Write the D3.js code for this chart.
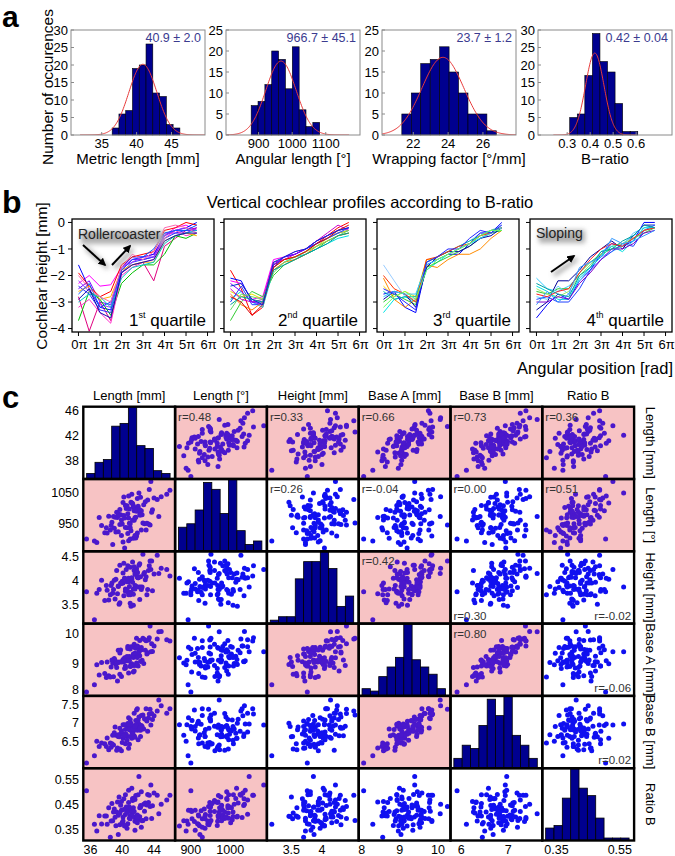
<!DOCTYPE html>
<html><head><meta charset="utf-8">
<script src="https://cdn.jsdelivr.net/npm/d3@7/dist/d3.min.js"></script>
<style>html,body{margin:0;padding:0;background:#fff;} svg{display:block;font-family:"Liberation Sans",Arial,Helvetica,sans-serif;}</style>
</head><body>
<svg id="fig" width="675" height="856"></svg>
<script>
// ---------------- Panel a data ----------------
const aLabels = ["Metric length [mm]", "Angular length [°]", "Wrapping factor [°/mm]", "B\u2212ratio"];
const aStats = ["40.9 ± 2.0", "966.7 ± 45.1", "23.7 ± 1.2", "0.42 ± 0.04"];
const aMean = [40.9, 966.7, 23.7, 0.42];
const aSd = [2.0, 45.1, 1.2, 0.04];
const aFitPeak = [20.2, 17.6, 18.5, 23.4];
const aCountsMetric = [2, 6, 7, 19, 20, 26, 12, 11, 3, 2];
const aCountsAngular = [7, 8, 12, 20, 18, 11, 21, 6, 2, 3];
const aCountsWrap = [5, 10, 17, 18, 21, 15, 10, 5, 5, 1];
const aCountsRatio = [5, 6, 17, 29, 21, 18, 9, 1, 1];
const aBinRange = [[36.5, 46.2], [878, 1082], [21.34, 26.77], [0.311, 0.607]];
const aXDomain = [[30.6, 49.8], [803, 1202], [20.2, 27.9], [0.173, 0.756]];
const aYMax = [30, 25, 25, 30];
const aXTicks = [[35, 40, 45], [900, 1000, 1100], [22, 24, 26], [0.3, 0.4, 0.5, 0.6]];
const aYLabel = "Number of occurences";

// ---------------- Panel b data ----------------
const bTitle = "Vertical cochlear profiles according to B-ratio";
const bAngles = [0, 0.5, 1, 1.5, 2, 2.5, 3, 3.5, 4, 4.5, 5, 5.5]; // multiples of pi
const bXTicks = [0, 1, 2, 3, 4, 5, 6];
const bYTicks = [0, -1, -2, -3, -4];
const bOrdinals = ["st", "nd", "rd", "th"];
const bQ1 = [
 [-2.3,-2.0,-2.4,-2.35,-1.7,-1.4,-1.3,-1.2,-0.5,-0.2,-0.1,-0.3],
 [-2.8,-4.1,-3.0,-3.7,-1.9,-1.6,-1.5,-2.2,-0.9,-0.6,-0.3,-0.2],
 [-1.6,-2.5,-3.2,-3.3,-1.7,-1.3,-1.3,-1.2,-0.5,-0.3,-0.2,0.0],
 [-2.5,-2.2,-3.0,-3.1,-1.8,-1.4,-1.4,-1.3,-0.4,-0.4,-0.4,-0.2],
 [-3.7,-2.6,-2.9,-3.5,-2.3,-1.9,-1.6,-1.6,-1.2,-0.5,-0.6,-0.4],
 [-1.9,-2.4,-2.8,-2.6,-1.6,-1.3,-1.2,-1.1,-0.3,-0.2,0.0,-0.1],
 [-2.4,-2.7,-3.3,-3.4,-1.9,-1.5,-1.4,-1.3,-0.6,-0.4,-0.3,-0.3],
 [-3.2,-2.9,-3.4,-3.8,-2.0,-1.7,-1.5,-1.4,-0.6,-0.3,-0.5,-0.4],
 [-2.6,-2.4,-2.9,-2.8,-1.8,-1.6,-1.5,-1.5,-0.7,-0.5,-0.4,-0.5],
 [-2.2,-2.6,-3.1,-3.2,-1.7,-1.5,-1.3,-1.3,-0.5,-0.3,-0.2,-0.3],
 [-2.7,-2.3,-3.2,-3.0,-1.8,-1.4,-1.3,-1.0,-0.4,-0.3,-0.3,-0.1],
 [-3.0,-2.7,-2.8,-3.2,-2.1,-1.7,-1.6,-1.5,-0.8,-0.5,-0.4,-0.3],
 [-2.0,-2.5,-2.8,-3.0,-1.7,-1.2,-1.4,-1.1,-0.2,-0.1,-0.2,-0.4],
 [-2.9,-2.5,-3.4,-3.6,-1.9,-1.6,-1.5,-1.4,-0.7,-0.5,-0.4,-0.4]
];
const bQ1Colors = ["#ff00ff","#e0007f","#0000ff","#7f00ff","#00c000","#ff0000","#3030ff","#ff33cc","#ffb000","#9933ff","#0050ff","#00c8c8","#ff66b2","#1010b0"];
const bQ2 = [
 [-1.8,-2.5,-3.5,-3.2,-1.6,-1.4,-1.3,-1.1,-0.8,-0.5,-0.2,0.0],
 [-2.2,-2.3,-2.9,-2.8,-1.4,-1.3,-1.1,-1.0,-0.7,-0.5,-0.3,-0.2],
 [-2.1,-2.2,-3.0,-3.0,-1.6,-1.3,-1.2,-1.0,-0.8,-0.6,-0.4,-0.3],
 [-3.7,-3.0,-2.6,-2.8,-2.0,-1.6,-1.4,-1.2,-1.0,-0.7,-0.5,-0.4],
 [-2.9,-2.6,-3.0,-3.2,-1.8,-1.5,-1.3,-1.2,-1.0,-0.8,-0.6,-0.5],
 [-2.6,-2.8,-2.7,-2.9,-1.7,-1.4,-1.3,-1.1,-0.9,-0.6,-0.4,-0.3],
 [-3.0,-2.4,-3.1,-3.1,-1.7,-1.3,-1.2,-1.0,-0.8,-0.6,-0.4,-0.2],
 [-2.5,-2.9,-3.0,-2.9,-1.5,-1.4,-1.2,-1.0,-0.7,-0.4,-0.1,-0.3],
 [-2.7,-3.1,-3.3,-3.0,-1.8,-1.5,-1.4,-1.2,-0.9,-0.7,-0.5,-0.4],
 [-2.3,-2.6,-3.0,-3.1,-1.6,-1.3,-1.2,-1.0,-0.7,-0.5,-0.3,-0.2],
 [-3.3,-2.7,-2.8,-2.9,-1.9,-1.5,-1.3,-1.1,-0.9,-0.7,-0.5,-0.3],
 [-2.8,-3.0,-3.5,-3.1,-1.7,-1.4,-1.3,-1.1,-0.8,-0.6,-0.3,-0.1],
 [-3.1,-2.8,-2.9,-3.0,-1.8,-1.6,-1.4,-1.2,-1.0,-0.8,-0.5,-0.4],
 [-2.4,-2.3,-2.9,-3.1,-1.5,-1.3,-1.1,-1.0,-0.7,-0.5,-0.3,-0.2]
];
const bQ2Colors = ["#ff0000","#ff00ff","#0000ff","#33cc33","#00e0e0","#e6e600","#2040ff","#cc00cc","#ff8000","#8000ff","#66e066","#dd0000","#009999","#0033cc"];
const bQ3 = [
 [-1.6,-2.2,-2.8,-2.9,-1.5,-1.3,-1.1,-0.9,-0.7,-0.4,-0.3,-0.1],
 [-3.4,-2.9,-2.8,-3.0,-1.8,-1.5,-1.2,-1.0,-0.8,-0.6,-0.4,-0.3],
 [-2.7,-2.6,-3.2,-3.4,-1.6,-1.4,-1.2,-1.2,-0.8,-0.4,-0.4,0.0],
 [-2.4,-2.8,-2.6,-2.8,-1.4,-1.4,-1.2,-1.0,-0.8,-0.5,-0.3,-0.2],
 [-2.1,-2.9,-3.2,-2.9,-1.6,-1.7,-1.4,-1.2,-1.2,-1.0,-0.6,-0.3],
 [-3.0,-2.7,-2.9,-3.1,-1.7,-1.5,-1.3,-1.1,-0.9,-0.6,-0.4,-0.3],
 [-2.9,-2.6,-2.7,-3.2,-1.7,-1.3,-1.1,-1.1,-0.9,-0.6,-0.5,-0.2],
 [-2.6,-2.9,-2.8,-2.8,-1.5,-1.3,-1.1,-0.9,-0.7,-0.5,-0.3,-0.2],
 [-2.0,-2.5,-2.7,-3.0,-1.4,-1.3,-1.1,-0.9,-0.8,-0.5,-0.4,-0.2],
 [-2.8,-2.6,-2.7,-2.7,-1.6,-1.4,-1.2,-1.0,-0.8,-0.6,-0.4,-0.2],
 [-2.5,-2.7,-3.0,-3.3,-1.5,-1.3,-1.0,-1.0,-0.6,-0.3,-0.4,-0.1],
 [-3.2,-2.8,-2.6,-2.9,-1.8,-1.4,-1.2,-1.0,-0.8,-0.5,-0.3,-0.3]
];
const bQ3Colors = ["#99ccff","#00e5e5","#0000ff","#ffd700","#ff8c00","#33cc33","#0000aa","#00b3b3","#ff3300","#33ccff","#2222ff","#66ff66"];
const bQ4 = [
 [-2.1,-2.5,-2.6,-2.4,-2.0,-1.6,-1.1,-0.9,-0.8,-0.5,-0.3,-0.2],
 [-3.6,-3.1,-2.7,-2.9,-2.2,-1.8,-1.2,-0.8,-0.9,-0.7,0.0,0.0],
 [-3.3,-3.0,-2.2,-2.2,-1.8,-1.3,-1.0,-0.7,-1.0,-0.5,-0.1,-0.1],
 [-2.6,-2.7,-2.5,-2.5,-1.9,-1.5,-1.2,-1.0,-0.9,-0.6,-0.4,-0.2],
 [-2.8,-2.9,-2.4,-2.7,-2.2,-1.7,-1.3,-1.1,-0.9,-0.4,-0.2,-0.1],
 [-2.9,-2.8,-3.0,-3.0,-2.5,-1.8,-1.4,-1.1,-0.8,-0.9,-0.3,-0.1],
 [-2.5,-2.7,-2.8,-2.6,-2.0,-1.6,-1.2,-0.9,-0.8,-0.6,-0.3,-0.2],
 [-2.4,-2.6,-2.9,-2.9,-2.1,-1.7,-1.3,-0.9,-1.1,-0.7,-0.2,-0.2],
 [-2.7,-2.8,-2.6,-2.5,-1.9,-1.4,-1.0,-0.8,-0.9,-0.6,-0.3,-0.2],
 [-3.0,-3.0,-2.8,-2.9,-2.3,-1.9,-1.4,-1.0,-1.0,-0.8,-0.4,-0.3],
 [-2.3,-2.5,-2.7,-2.8,-2.0,-1.7,-1.1,-1.0,-0.7,-0.5,-0.1,-0.2],
 [-3.1,-2.6,-3.0,-2.7,-1.7,-1.5,-1.3,-0.6,-0.8,-0.7,-0.5,-0.3]
];
const bQ4Colors = ["#33ccff","#0000ff","#000099","#33cc33","#66ccff","#2040ff","#99ee66","#00e0e0","#ff2020","#8000cc","#00a0a0","#3399ff"];

// ---------------- Panel c data ----------------
const cVarNames = ["Length [mm]", "Length [°]", "Height [mm]", "Base A [mm]", "Base B [mm]", "Ratio B"];
const cLengthMm = [41.4,39.2,43.3,40.4,42.1,37.8,41.9,40.8,42.7,38.6,41.1,44.4,39.9,41.6,40.1,42.4,40.7,43.0,36.5,41.2,
 42.0,39.5,41.5,39.0,43.8,40.3,41.0,42.3,38.3,41.8,40.6,42.9,39.7,44.9,40.9,41.3,37.4,42.2,40.2,43.5,
 39.4,41.7,40.5,42.5,38.8,41.0,43.2,40.0,41.4,35.5,44.0,40.4,42.6,39.1,41.2,38.0,42.1,40.8,41.9,39.8,
 45.6,40.7,41.6,38.5,42.8,40.1,41.1,43.7,39.6,41.5,37.1,42.3,40.3,41.3,39.3,43.1,40.9,42.0,38.1,41.8,
 39.9,44.6,40.6,41.7,38.9,42.4,40.2,41.0,43.4,39.5,41.4,36.8,42.2,40.8,46.0,39.7,41.9,43.6,38.7,41.6];
const cLengthDeg = [1003,922,948,1008,989,920,1001,894,1010,943,1018,1027,961,968,890,991,981,929,893,1016,
 1005,981,991,934,994,967,900,1034,973,909,936,1020,946,1036,950,960,943,977,1035,945,
 969,903,998,978,882,949,1025,948,1007,900,1032,937,951,970,1044,936,1048,967,919,978,
 1044,917,992,929,949,1017,926,986,976,960,969,977,871,1014,986,950,996,996,919,989,
 911,972,1007,970,972,929,975,936,1059,923,902,888,994,1038,1057,995,1030,1085,954,911];
const cHeight = [3.71,4.02,4.20,3.77,4.31,3.58,4.16,3.97,4.13,3.89,3.46,4.52,3.94,3.89,3.94,3.81,4.30,4.07,3.18,4.02,
 4.05,3.88,4.28,4.00,3.78,4.04,3.70,4.07,3.59,4.24,3.97,4.01,4.31,4.25,3.87,4.38,4.00,3.60,3.68,4.40,
 3.72,3.88,4.22,3.86,3.73,4.27,3.81,3.98,3.48,3.76,4.13,3.82,4.54,3.61,4.05,3.89,3.86,3.70,4.16,3.94,
 4.22,3.76,4.13,3.70,4.16,4.15,3.75,4.40,3.50,4.20,3.81,3.86,4.04,3.96,4.20,3.70,3.73,4.05,3.79,4.18,
 3.93,4.14,3.81,4.12,3.81,3.85,4.35,3.52,4.30,3.87,3.82,3.73,4.34,4.04,4.09,3.53,4.06,4.22,3.94,3.82];
const cBaseA = [9.32,8.97,9.78,8.92,9.38,8.67,9.57,9.54,9.00,8.88,8.97,9.82,8.57,9.53,9.11,9.46,9.57,9.76,8.29,8.99,
 9.54,9.44,8.75,9.17,9.40,8.83,9.48,9.07,8.59,9.84,9.09,9.44,9.35,10.07,9.11,8.93,9.03,9.26,9.06,10.25,
 8.42,9.30,9.19,9.11,9.02,9.55,9.36,9.06,9.20,8.05,9.58,8.85,9.84,9.11,9.56,8.53,9.39,8.68,9.20,9.45,
 9.79,9.50,8.93,8.55,9.80,9.13,8.92,9.66,9.05,9.64,8.62,9.47,9.19,9.24,8.87,9.32,9.23,8.92,9.05,9.02,
 9.05,10.06,9.23,9.51,8.56,9.53,9.12,8.90,9.86,9.03,8.72,8.96,9.77,9.09,9.75,8.64,9.58,9.39,9.12,9.34];
const cBaseB = [6.78,6.66,7.13,6.43,7.16,6.43,6.80,7.14,6.83,6.34,6.99,7.32,6.24,6.88,6.95,6.93,6.88,7.38,6.11,6.58,
 7.08,6.63,6.65,6.73,7.09,6.68,6.90,6.63,6.27,7.35,6.63,7.10,6.85,7.46,6.42,6.91,6.45,6.81,6.70,7.37,
 6.32,7.06,6.69,6.90,6.66,7.09,6.77,6.47,6.90,5.91,7.19,6.82,7.21,6.89,6.75,6.36,6.97,6.31,7.04,6.69,
 7.26,6.98,6.61,6.45,7.11,6.58,6.96,7.25,6.62,7.26,6.36,6.80,6.95,6.72,6.26,7.05,6.81,6.54,6.59,6.91,
 6.78,7.62,6.53,6.94,6.40,7.20,6.65,6.63,7.24,6.68,6.83,6.50,6.86,6.97,7.38,6.29,7.38,6.94,6.43,6.90];
const cRatioB = [0.436,0.364,0.457,0.489,0.399,0.403,0.376,0.426,0.450,0.383,0.402,0.486,0.461,0.382,0.383,0.501,0.426,0.392,0.370,0.515,
 0.388,0.406,0.473,0.431,0.444,0.365,0.426,0.445,0.436,0.381,0.354,0.455,0.368,0.450,0.439,0.465,0.371,0.400,0.472,0.441,
 0.459,0.392,0.439,0.384,0.384,0.405,0.490,0.377,0.401,0.505,0.496,0.409,0.385,0.398,0.410,0.403,0.562,0.457,0.407,0.446,
 0.467,0.372,0.469,0.318,0.422,0.399,0.424,0.393,0.479,0.421,0.404,0.438,0.363,0.473,0.419,0.447,0.394,0.489,0.370,0.399,
 0.426,0.412,0.419,0.485,0.419,0.358,0.429,0.392,0.486,0.329,0.421,0.343,0.436,0.507,0.486,0.415,0.397,0.528,0.453,0.346];
const cHistLength = [2, 6, 7, 19, 20, 26, 12, 11, 3, 2];
const cHistAngle = [7, 8, 12, 20, 18, 11, 21, 6, 2, 3];
const cHistHeight = [1, 2, 2, 13, 18, 18, 21, 16, 5, 8];
const cHistBaseA = [3, 2, 8, 12, 16, 30, 15, 12, 9, 3];
const cHistBaseB = [3, 7, 6, 13, 21, 16, 22, 10, 7, 3];
const cHistRatio = [5, 6, 17, 29, 21, 18, 9, 1, 1, 1];
const cDomains = [[35.1, 46.65], [860, 1093], [3.1, 4.6], [7.92, 10.33], [5.77, 7.73], [0.305, 0.595]];
const cXTicks = [[36, 40, 44], [900, 1000], [3.5, 4], [8, 9, 10], [6, 7], [0.35, 0.55]];
const cYTicks = [[38, 42, 46], [950, 1050], [3.5, 4, 4.5], [8, 9, 10], [6.5, 7, 7.5], [0.35, 0.45, 0.55]];
const cRText = [ // upper triangle [row, col, r]
 [0,1,"0.48"],[0,2,"0.33"],[0,3,"0.66"],[0,4,"0.73"],[0,5,"0.36"],
 [1,2,"0.26"],[1,3,"-0.04"],[1,4,"0.00"],[1,5,"0.51"],
 [2,3,"0.42"],[2,4,"0.30"],[2,5,"-0.02"],
 [3,4,"0.80"],[3,5,"-0.06"],
 [4,5,"0.02"]];
const cSignificant = [[0,1],[0,2],[0,3],[0,4],[0,5],[1,5],[2,3],[3,4]];

// ---------------- Drawing ----------------
const svg = d3.select("#fig");
const defs = svg.append("defs");

// Panel letters
svg.append("text").attr("x", 2).attr("y", 27).attr("font-size", 30).attr("font-weight", "bold").text("a");
svg.append("text").attr("x", 2).attr("y", 213).attr("font-size", 32).attr("font-weight", "bold").text("b");
svg.append("text").attr("x", 2).attr("y", 408).attr("font-size", 31).attr("font-weight", "bold").text("c");

// ===== Panel a =====
const aCounts = [aCountsMetric, aCountsAngular, aCountsWrap, aCountsRatio];
const aLeft = [71, 226, 382, 538], aW = 134, aTop = 30, aBot = 135;
svg.append("text").attr("transform", "translate(53,87) rotate(-90)").attr("text-anchor", "middle")
  .attr("font-size", 15.5).text(aYLabel);
aCounts.forEach((counts, i) => {
  const g = svg.append("g");
  const x = d3.scaleLinear().domain(aXDomain[i]).range([aLeft[i], aLeft[i] + aW]);
  const y = d3.scaleLinear().domain([0, aYMax[i]]).range([aBot, aTop]);
  const clipId = "aclip" + i;
  defs.append("clipPath").attr("id", clipId).append("rect")
    .attr("x", aLeft[i]).attr("y", aTop).attr("width", aW).attr("height", aBot - aTop);
  const [lo, hi] = aBinRange[i];
  const bw = (hi - lo) / counts.length;
  g.selectAll("rect.bar").data(counts).join("rect").attr("class", "bar")
    .attr("x", (d, k) => x(lo + k * bw)).attr("width", (d, k) => x(lo + (k + 1) * bw) - x(lo + k * bw))
    .attr("y", d => y(d)).attr("height", d => y(0) - y(d))
    .attr("fill", "#00008f").attr("stroke", "#000").attr("stroke-width", 0.6);
  const m = aMean[i], s = aSd[i];
  const pts = d3.range(0, 201).map(k => m - 4.5 * s + k * 9 * s / 200);
  g.append("path").attr("clip-path", `url(#${clipId})`)
    .attr("d", d3.line().x(v => x(v)).y(v => y(aFitPeak[i] * Math.exp(-0.5 * ((v - m) / s) ** 2)))(pts))
    .attr("fill", "none").attr("stroke", "#e83a3a").attr("stroke-width", 1);
  g.append("rect").attr("x", aLeft[i]).attr("y", aTop).attr("width", aW).attr("height", aBot - aTop)
    .attr("fill", "none").attr("stroke", "#8a8a8a").attr("stroke-width", 1);
  const yt = d3.range(0, aYMax[i] + 0.1, 5);
  g.selectAll("line.yt").data(yt).join("line").attr("x1", aLeft[i]).attr("x2", aLeft[i] + 3)
    .attr("y1", d => y(d)).attr("y2", d => y(d)).attr("stroke", "#8a8a8a");
  g.selectAll("text.yt").data(yt).join("text").attr("x", aLeft[i] - 3).attr("y", d => y(d))
    .attr("dy", "0.36em").attr("text-anchor", "end").attr("font-size", 13).text(d => d);
  g.selectAll("line.xt").data(aXTicks[i]).join("line").attr("x1", d => x(d)).attr("x2", d => x(d))
    .attr("y1", aBot).attr("y2", aBot - 3).attr("stroke", "#8a8a8a");
  g.selectAll("text.xt").data(aXTicks[i]).join("text").attr("x", d => x(d)).attr("y", aBot + 13)
    .attr("text-anchor", "middle").attr("font-size", 13).text(d => d);
  g.append("text").attr("x", aLeft[i] + aW / 2).attr("y", 164).attr("text-anchor", "middle")
    .attr("font-size", 15).text(aLabels[i]);
  g.append("text").attr("x", aLeft[i] + aW - 4).attr("y", aTop + 12).attr("text-anchor", "end")
    .attr("font-size", 12.5).attr("fill", "#3b3b8f").text(aStats[i]);
});

// ===== Panel b =====
const bData = [bQ1, bQ2, bQ3, bQ4];
const bColors = [bQ1Colors, bQ2Colors, bQ3Colors, bQ4Colors];
const bLeft = [72, 224, 377, 530], bW = 142, bTop = 219, bBot = 332;
svg.append("text").attr("x", 370).attr("y", 208).attr("text-anchor", "middle").attr("font-size", 16.5).text(bTitle);
svg.append("text").attr("transform", "translate(47,276) rotate(-90)").attr("text-anchor", "middle")
  .attr("font-size", 15.5).text("Cochlear height [mm]");
svg.append("text").attr("x", 673).attr("y", 374).attr("text-anchor", "end").attr("font-size", 16.5).text("Angular position [rad]");

const blur = defs.append("filter").attr("id", "blur").attr("x", "-40%").attr("y", "-60%").attr("width", "180%").attr("height", "220%");
blur.append("feGaussianBlur").attr("stdDeviation", 2.5);
defs.append("marker").attr("id", "ah").attr("viewBox", "0 0 10 10").attr("refX", 8).attr("refY", 5)
  .attr("markerWidth", 4).attr("markerHeight", 4).attr("orient", "auto")
  .append("path").attr("d", "M0,0 L10,5 L0,10 Z").attr("fill", "#000");

bData.forEach((profiles, q) => {
  const g = svg.append("g");
  const x = d3.scaleLinear().domain([-0.3, 6.3]).range([bLeft[q], bLeft[q] + bW]);
  const y = d3.scaleLinear().domain([-4.13, 0.13]).range([bBot, bTop]);
  const line = d3.line().x((d, k) => x(bAngles[k])).y(d => y(d));
  g.selectAll("path.prof").data(profiles).join("path").attr("class", "prof")
    .attr("d", d => line(d)).attr("fill", "none")
    .attr("stroke", (d, k) => bColors[q][k]).attr("stroke-width", 1);
  g.append("rect").attr("x", bLeft[q]).attr("y", bTop).attr("width", bW).attr("height", bBot - bTop)
    .attr("fill", "none").attr("stroke", "#000").attr("stroke-width", 1.3);
  g.selectAll("line.yt").data(bYTicks).join("line").attr("x1", bLeft[q] - 4).attr("x2", bLeft[q])
    .attr("y1", d => y(d)).attr("y2", d => y(d)).attr("stroke", "#000");
  if (q === 0) {
    g.selectAll("text.yt").data(bYTicks).join("text").attr("x", bLeft[q] - 7).attr("y", d => y(d))
      .attr("dy", "0.36em").attr("text-anchor", "end").attr("font-size", 13).text(d => d === 0 ? "0" : "\u2212" + Math.abs(d));
  }
  g.selectAll("line.xt").data(bXTicks).join("line").attr("x1", d => x(d)).attr("x2", d => x(d))
    .attr("y1", bBot).attr("y2", bBot + 4).attr("stroke", "#000");
  g.selectAll("text.xt").data(bXTicks).join("text").attr("x", d => x(d) + 1).attr("y", bBot + 17)
    .attr("text-anchor", "middle").attr("font-size", 13).text(d => d + "\u03c0");
  const t = g.append("text").attr("x", bLeft[q] + bW - 8).attr("y", bBot - 6).attr("text-anchor", "end").attr("font-size", 17);
  t.append("tspan").text(q + 1);
  t.append("tspan").attr("font-size", 9).attr("dy", -8).text(bOrdinals[q]);
  t.append("tspan").attr("dy", 8).text(" quartile");
});

function annot(txt, tx, ty, tw, arrows) {
  const gs = svg.append("g").attr("filter", "url(#blur)").attr("transform", "translate(3,3)");
  gs.append("rect").attr("x", tx).attr("y", ty - 11).attr("width", tw).attr("height", 13).attr("fill", "#b0b0b0");
  arrows.forEach(a => gs.append("line").attr("x1", a[0]).attr("y1", a[1]).attr("x2", a[2]).attr("y2", a[3])
    .attr("stroke", "#a0a0a0").attr("stroke-width", 3.5));
  const g = svg.append("g");
  g.append("text").attr("x", tx).attr("y", ty).attr("font-size", 14).attr("fill", "#222").text(txt);
  arrows.forEach(a => g.append("line").attr("x1", a[0]).attr("y1", a[1]).attr("x2", a[2]).attr("y2", a[3])
    .attr("stroke", "#000").attr("stroke-width", 2).attr("marker-end", "url(#ah)"));
}
annot("Rollercoaster", 78, 239, 83, [[83, 245, 105, 265], [112, 265, 130, 246]]);
annot("Sloping", 536, 238, 46, [[551, 272, 574, 256]]);

// ===== Panel c =====
const cVars = [cLengthMm, cLengthDeg, cHeight, cBaseA, cBaseB, cRatioB];
const cHists = [cHistLength, cHistAngle, cHistHeight, cHistBaseA, cHistBaseB, cHistRatio];
const cX0 = 83.3, cY0 = 406.7, cW = 91.8, cH = 72.3;
const sig = new Set(cSignificant.flatMap(([a, b]) => [a + "," + b, b + "," + a]));
const N = cLengthMm.length;
const gc = svg.append("g");
for (let i = 0; i < 6; i++) {
  for (let j = 0; j < 6; j++) {
    const x0 = cX0 + j * cW, y0 = cY0 + i * cH;
    const pink = sig.has(i + "," + j);
    const cell = gc.append("g");
    cell.append("rect").attr("x", x0).attr("y", y0).attr("width", cW).attr("height", cH)
      .attr("fill", pink ? "#f7c3c4" : "#fff");
    if (i === j) {
      const counts = cHists[i];
      const hx = d3.scaleLinear().domain([-0.4, counts.length + 0.6]).range([x0, x0 + cW]);
      const hy = d3.scaleLinear().domain([0, d3.max(counts)]).range([y0 + cH, y0]);
      cell.selectAll("rect.bar").data(counts).join("rect").attr("class", "bar")
        .attr("x", (d, k) => hx(k)).attr("width", hx(1) - hx(0))
        .attr("y", d => hy(d)).attr("height", d => hy(0) - hy(d))
        .attr("fill", "#00008f").attr("stroke", "#000").attr("stroke-width", 0.8);
    } else {
      const sx = d3.scaleLinear().domain(cDomains[j]).range([x0, x0 + cW]);
      const sy = d3.scaleLinear().domain(cDomains[i]).range([y0 + cH, y0]);
      cell.selectAll("circle").data(d3.range(N)).join("circle")
        .attr("cx", k => sx(cVars[j][k])).attr("cy", k => sy(cVars[i][k])).attr("r", 2.5)
        .attr("fill", pink ? "#4a18cc" : "#1010f0");
    }
  }
}
const rPos = {"2,4": "bl", "2,5": "br", "3,5": "br", "4,5": "br"};
cRText.forEach(([i, j, r]) => {
  const x0 = cX0 + j * cW, y0 = cY0 + i * cH;
  const p = rPos[i + "," + j] || "tl";
  gc.append("text").attr("font-size", 11.5).attr("fill", "#333")
    .attr("x", p === "br" ? x0 + cW - 3 : x0 + 3)
    .attr("y", p === "tl" ? y0 + 14 : y0 + cH - 4)
    .attr("text-anchor", p === "br" ? "end" : "start").text("r=" + r);
});
for (let i = 0; i < 6; i++) for (let j = 0; j < 6; j++) {
  gc.append("rect").attr("x", cX0 + j * cW).attr("y", cY0 + i * cH).attr("width", cW).attr("height", cH)
    .attr("fill", "none").attr("stroke", "#000").attr("stroke-width", 2.4);
}
cVarNames.forEach((name, k) => {
  gc.append("text").attr("x", cX0 + (k + 0.5) * cW).attr("y", 400).attr("text-anchor", "middle")
    .attr("font-size", 13).text(name);
  gc.append("text").attr("transform", `translate(646,${cY0 + (k + 0.5) * cH}) rotate(90)`)
    .attr("text-anchor", "middle").attr("font-size", 13).text(name);
  const sx = d3.scaleLinear().domain(cDomains[k]).range([cX0 + k * cW, cX0 + (k + 1) * cW]);
  gc.selectAll("text.xt" + k).data(cXTicks[k]).join("text").attr("x", d => sx(d)).attr("y", 854)
    .attr("text-anchor", "middle").attr("font-size", 12.5).text(d => d);
  const rowBottom = cY0 + (k + 1) * cH;
  const sy = d3.scaleLinear().domain(cDomains[k]).range([rowBottom, cY0 + k * cH]);
  gc.selectAll("text.yt" + k).data(cYTicks[k]).join("text").attr("x", 79)
    .attr("y", d => sy(d) > rowBottom - 4 ? sy(d) - 4 : sy(d))
    .attr("dy", "0.36em").attr("text-anchor", "end").attr("font-size", 12.5).text(d => d);
});
</script>
</body></html>
